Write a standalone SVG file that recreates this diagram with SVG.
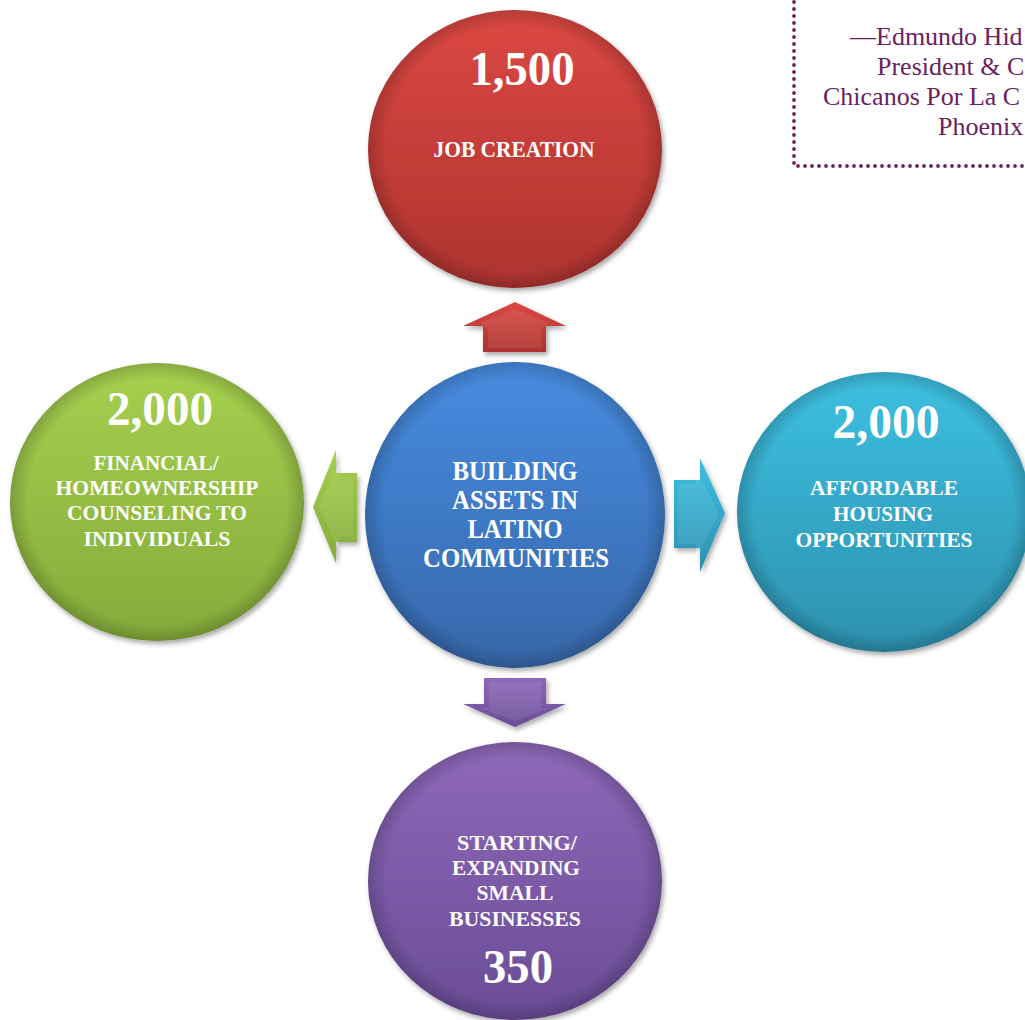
<svg xmlns="http://www.w3.org/2000/svg" width="1025" height="1020" viewBox="0 0 1025 1020">
<defs>
  <linearGradient id="gRed" x1="0" y1="0" x2="0" y2="1"><stop offset="0" stop-color="#dc4843"/><stop offset="1" stop-color="#ad332f"/></linearGradient>
  <linearGradient id="gGreen" x1="0" y1="0" x2="0" y2="1"><stop offset="0" stop-color="#a6d04f"/><stop offset="1" stop-color="#84ab3a"/></linearGradient>
  <linearGradient id="gBlue" x1="0" y1="0" x2="0" y2="1"><stop offset="0" stop-color="#478ce0"/><stop offset="1" stop-color="#3667aa"/></linearGradient>
  <linearGradient id="gCyan" x1="0" y1="0" x2="0" y2="1"><stop offset="0" stop-color="#3dc0e2"/><stop offset="1" stop-color="#2d90ad"/></linearGradient>
  <linearGradient id="gPurple" x1="0" y1="0" x2="0" y2="1"><stop offset="0" stop-color="#8e69b9"/><stop offset="1" stop-color="#6a4c96"/></linearGradient>
  <radialGradient id="rim" cx="0.5" cy="0.5" r="0.5">
    <stop offset="0.88" stop-color="#000" stop-opacity="0"/>
    <stop offset="1" stop-color="#000" stop-opacity="0.18"/>
  </radialGradient>
  <filter id="shadow" x="-10%" y="-10%" width="125%" height="125%">
    <feDropShadow dx="2" dy="3" stdDeviation="2.5" flood-color="#000" flood-opacity="0.35"/>
  </filter>
</defs>
<style>
  .lbl { font-family: "Liberation Serif", "Times New Roman", serif; font-weight: bold; fill: #ffffff; text-anchor: middle; }
  .num { font-size: 48px; }
  .t22 { font-size: 22px; }
  .t24 { font-size: 24px; }
  .t27 { font-size: 27px; }
  .quote { font-family: "Liberation Serif", "Times New Roman", serif; font-size: 26px; fill: #6b215f; }
  .rim { fill: url(#rim); }
</style>

<g id="quote-box">
  <path d="M794,2 V166 H1025" fill="none" stroke="#6e2463" stroke-width="3.8" stroke-linecap="round" stroke-dasharray="0 7"/>
  <text class="quote" x="850" y="45">—Edmundo Hid</text>
  <text class="quote" x="877" y="75">President &amp; C</text>
  <text class="quote" x="823" y="105">Chicanos Por La C</text>
  <text class="quote" x="938" y="135">Phoenix</text>
</g>

<g id="connectors">
  <g id="arrow-up" filter="url(#shadow)">
    <polygon points="515,302 566,326 546,326 546,352 483,352 483,326 463,326" fill="url(#gRed)"/>
    <polygon points="515,309 549,323 541,329 541,348 488,348 488,329 480,323" fill="#ffffff" fill-opacity="0.08"/>
  </g>
  <g id="arrow-down" filter="url(#shadow)">
    <polygon points="484,678 546,678 546,704 566,704 515,727 463,704 484,704" fill="url(#gPurple)"/>
    <polygon points="489,682 541,682 541,708 549,708 515,721 480,708 489,708" fill="#ffffff" fill-opacity="0.08"/>
  </g>
  <g id="arrow-left" filter="url(#shadow)">
    <polygon points="313,507 336,450 336,473 357,473 357,542 336,542 336,563" fill="url(#gGreen)"/>
    <polygon points="319,507 339,463 339,478 353,478 353,537 339,537 339,551" fill="#ffffff" fill-opacity="0.08"/>
  </g>
  <g id="arrow-right" filter="url(#shadow)">
    <polygon points="674,480 700,480 700,458 725,513 700,572 700,548 674,548" fill="url(#gCyan)"/>
    <polygon points="678,484 696,484 696,470 719,513 696,560 696,544 678,544" fill="#ffffff" fill-opacity="0.08"/>
  </g>
</g>

<g id="node-job-creation">
  <ellipse cx="515" cy="149" rx="147" ry="139" fill="url(#gRed)" filter="url(#shadow)"/>
  <ellipse class="rim" cx="515" cy="149" rx="147" ry="139"/>
  <text class="lbl num" x="522" y="85" textLength="105" lengthAdjust="spacingAndGlyphs">1,500</text>
  <text class="lbl t24" x="514" y="157" textLength="161" lengthAdjust="spacingAndGlyphs">JOB CREATION</text>
</g>

<g id="node-financial">
  <ellipse cx="157" cy="502" rx="147" ry="139" fill="url(#gGreen)" filter="url(#shadow)"/>
  <ellipse class="rim" cx="157" cy="502" rx="147" ry="139"/>
  <text class="lbl num" x="160" y="425" textLength="106" lengthAdjust="spacingAndGlyphs">2,000</text>
  <text class="lbl t22" x="156" y="470" textLength="125" lengthAdjust="spacingAndGlyphs">FINANCIAL/</text>
  <text class="lbl t22" x="157" y="495" textLength="203" lengthAdjust="spacingAndGlyphs">HOMEOWNERSHIP</text>
  <text class="lbl t22" x="157" y="520" textLength="180" lengthAdjust="spacingAndGlyphs">COUNSELING TO</text>
  <text class="lbl t22" x="157" y="546" textLength="147" lengthAdjust="spacingAndGlyphs">INDIVIDUALS</text>
</g>

<g id="node-center">
  <ellipse cx="515" cy="515" rx="150" ry="153" fill="url(#gBlue)" filter="url(#shadow)"/>
  <ellipse class="rim" cx="515" cy="515" rx="150" ry="153"/>
  <text class="lbl t27" x="515" y="480" textLength="125" lengthAdjust="spacingAndGlyphs">BUILDING</text>
  <text class="lbl t27" x="515" y="509" textLength="126" lengthAdjust="spacingAndGlyphs">ASSETS IN</text>
  <text class="lbl t27" x="515" y="538" textLength="95" lengthAdjust="spacingAndGlyphs">LATINO</text>
  <text class="lbl t27" x="516" y="567" textLength="186" lengthAdjust="spacingAndGlyphs">COMMUNITIES</text>
</g>

<g id="node-housing">
  <ellipse cx="884" cy="512" rx="147" ry="140" fill="url(#gCyan)" filter="url(#shadow)"/>
  <ellipse class="rim" cx="884" cy="512" rx="147" ry="140"/>
  <text class="lbl num" x="886" y="438" textLength="107" lengthAdjust="spacingAndGlyphs">2,000</text>
  <text class="lbl t22" x="884" y="495" textLength="148" lengthAdjust="spacingAndGlyphs">AFFORDABLE</text>
  <text class="lbl t22" x="883" y="521" textLength="100" lengthAdjust="spacingAndGlyphs">HOUSING</text>
  <text class="lbl t22" x="884" y="547" textLength="177" lengthAdjust="spacingAndGlyphs">OPPORTUNITIES</text>
</g>

<g id="node-small-business">
  <ellipse cx="515" cy="881" rx="147" ry="139" fill="url(#gPurple)" filter="url(#shadow)"/>
  <ellipse class="rim" cx="515" cy="881" rx="147" ry="139"/>
  <text class="lbl t22" x="517" y="850" textLength="120" lengthAdjust="spacingAndGlyphs">STARTING/</text>
  <text class="lbl t22" x="516" y="875" textLength="128" lengthAdjust="spacingAndGlyphs">EXPANDING</text>
  <text class="lbl t22" x="515" y="900" textLength="77" lengthAdjust="spacingAndGlyphs">SMALL</text>
  <text class="lbl t22" x="515" y="926" textLength="132" lengthAdjust="spacingAndGlyphs">BUSINESSES</text>
  <text class="lbl num" x="518" y="983" textLength="70" lengthAdjust="spacingAndGlyphs">350</text>
</g>
</svg>
